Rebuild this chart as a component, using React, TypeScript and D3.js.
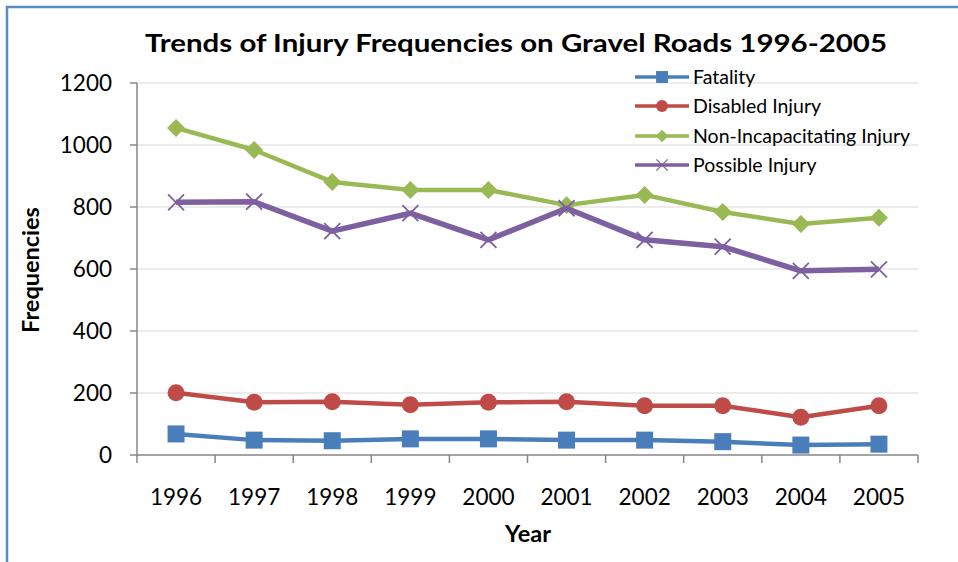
import React from "react";
import * as d3 from "d3";

const years = ["1996", "1997", "1998", "1999", "2000", "2001", "2002", "2003", "2004", "2005"];
const fatality = [68, 48, 46, 52, 52, 48, 48, 43, 32, 35];
const disabled = [201, 170, 172, 162, 170, 172, 159, 159, 122, 159];
const nonIncap = [1055, 984, 881, 855, 855, 806, 839, 784, 745, 765];
const possible = [815, 817, 722, 780, 694, 796, 694, 672, 594, 599];
const yTicks = [0, 200, 400, 600, 800, 1000, 1200];

const seriesNames = ["Fatality", "Disabled Injury", "Non-Incapacitating Injury", "Possible Injury"];
const seriesColors = ["#4a7ebb", "#be4b48", "#98b954", "#7d60a0"];
const seriesMarkers = ["square", "circle", "diamond", "x"];
const seriesData = [fatality, disabled, nonIncap, possible];

const W = 958;
const H = 562;
const left = 137;
const right = 918;
const top = 83;
const bottom = 455;
const font = "Lato, 'Open Sans', sans-serif";

function Marker({ type, x, y, color }: { type: string; x: number; y: number; color: string }) {
  if (type === "square") return <rect x={x - 8.5} y={y - 8.5} width={17} height={17} fill={color} />;
  if (type === "circle") return <circle cx={x} cy={y} r={8.5} fill={color} />;
  if (type === "diamond")
    return <path d={`M${x},${y - 9}L${x + 9},${y}L${x},${y + 9}L${x - 9},${y}Z`} fill={color} />;
  return (
    <path
      d={`M${x - 8},${y - 8}L${x + 8},${y + 8}M${x - 8},${y + 8}L${x + 8},${y - 8}`}
      stroke={color}
      strokeWidth={1.8}
      fill="none"
    />
  );
}

export default function App() {
  const x = d3.scaleBand<string>().domain(years).range([left, right]);
  const y = d3.scaleLinear().domain([0, 1200]).range([bottom, top]);
  const cx = (yr: string) => (x(yr) as number) + x.bandwidth() / 2;
  const line = d3
    .line<number>()
    .x((_, i) => cx(years[i]))
    .y((d) => y(d));

  const legendX = 635;
  const legendY = [77, 106, 136, 165];

  return (
    <svg
      width={W}
      height={H}
      style={{ position: "absolute", left: 0, top: 0, background: "#fff" }}
      fontFamily={font}
    >
      <rect x={0} y={0} width={W} height={H} fill="#fff" />
      {/* border */}
      <path d={`M${W},7H7V${H}`} stroke="#5b8bc6" strokeWidth={2.5} fill="none" />
      {/* title */}
      <text
        x={516}
        y={52}
        textAnchor="middle"
        fontWeight="bold"
        fontSize={25}
        textLength={742}
        lengthAdjust="spacingAndGlyphs"
      >
        Trends of Injury Frequencies on Gravel Roads 1996-2005
      </text>
      {/* gridlines */}
      {yTicks.filter((t) => t > 0).map((t) => (
        <line key={t} x1={left} x2={right} y1={y(t)} y2={y(t)} stroke="#d9d9d9" strokeWidth={1} />
      ))}
      {/* y axis */}
      <line x1={left} x2={left} y1={top} y2={bottom} stroke="#868686" strokeWidth={1.5} />
      {yTicks.map((t) => (
        <g key={t}>
          <line x1={left - 7} x2={left} y1={y(t)} y2={y(t)} stroke="#868686" strokeWidth={1.5} />
          <text x={112} y={y(t) + 8} textAnchor="end" fontSize={22.5}>
            {t}
          </text>
        </g>
      ))}
      {/* x axis */}
      <line x1={left} x2={right} y1={bottom} y2={bottom} stroke="#868686" strokeWidth={1.5} />
      {[...years.map((yr) => x(yr) as number), right].map((px, i) => (
        <line key={i} x1={px} x2={px} y1={bottom} y2={bottom + 8} stroke="#868686" strokeWidth={1.5} />
      ))}
      {years.map((yr) => (
        <text key={yr} x={cx(yr)} y={505} textAnchor="middle" fontSize={22.5}>
          {yr}
        </text>
      ))}
      {/* axis titles */}
      <text x={528} y={542} textAnchor="middle" fontWeight="bold" fontSize={23.5}>
        Year
      </text>
      <text
        transform={`translate(39,${270}) rotate(-90)`}
        textAnchor="middle"
        fontWeight="bold"
        fontSize={23.5}
      >
        Frequencies
      </text>
      {/* series */}
      {seriesData.map((data, si) => (
        <g key={si}>
          <path d={line(data) || ""} fill="none" stroke={seriesColors[si]} strokeWidth={si === 3 ? 5.5 : 4.5} strokeLinejoin="round" />
          {data.map((v, i) => (
            <Marker key={i} type={seriesMarkers[si]} x={cx(years[i])} y={y(v)} color={seriesColors[si]} />
          ))}
        </g>
      ))}
      {/* legend */}
      {seriesNames.map((name, i) => (
        <g key={name}>
          <line x1={legendX} x2={legendX + 54} y1={legendY[i]} y2={legendY[i]} stroke={seriesColors[i]} strokeWidth={3.5} />
          <g transform={`translate(${legendX + 27},${legendY[i]}) scale(0.7) translate(${-(legendX + 27)},${-legendY[i]})`}>
            <Marker type={seriesMarkers[i]} x={legendX + 27} y={legendY[i]} color={seriesColors[i]} />
          </g>
          <text x={legendX + 58} y={legendY[i] + 7} fontSize={19.5}>
            {name}
          </text>
        </g>
      ))}
    </svg>
  );
}
